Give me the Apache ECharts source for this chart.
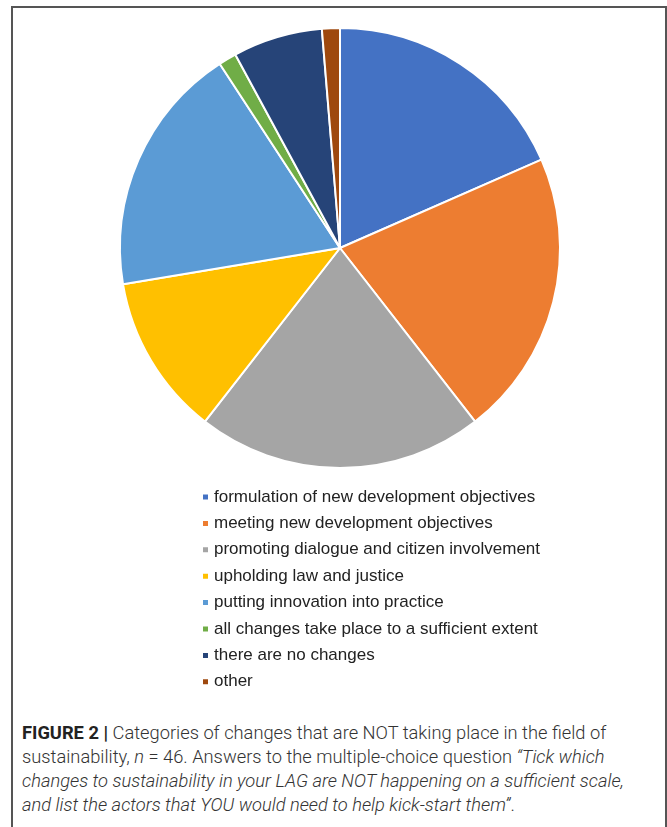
<!DOCTYPE html>
<html>
<head>
    <meta charset="UTF-8">
    <title>Figure 2</title>
    <style>
        body { margin: 0; background: #fff; }
        #frame {
            position: absolute; left: 11px; top: 6px; width: 652px; height: 840px;
            border: 2px solid #555; border-bottom: none;
        }
        #main { position: absolute; left: 0; top: 0; width: 667px; height: 710px; }
        #caption {
            position: absolute; left: 22px; top: 721px; width: 640px;
            font-family: Roboto, "Liberation Sans", sans-serif; font-weight: 300;
            font-size: 18.3px; line-height: 24px; color: #333; white-space: nowrap;
        }
        #caption b { font-weight: 700; color: #222; }
    </style>
</head>
<body>
<div id="frame"></div>
<div id="main"></div>
<div id="caption">
    <b>FIGURE 2 |</b> Categories of changes that are NOT taking place in the field of<br>
    sustainability, <i>n</i> = 46. Answers to the multiple-choice question <i>“Tick which<br>
    changes to sustainability in your LAG are NOT happening on a sufficient scale,<br>
    and list the actors that YOU would need to help kick-start them”</i>.
</div>
<script type="text/javascript" src="https://cdn.jsdelivr.net/npm/echarts@6/dist/echarts.min.js"></script>
<script type="text/javascript">
    // categories and counts
    var categories = [
        'formulation of new development objectives',
        'meeting new development objectives',
        'promoting dialogue and citizen involvement',
        'upholding law and justice',
        'putting innovation into practice',
        'all changes take place to a sufficient extent',
        'there are no changes',
        'other'
    ];
    var counts = [14, 16, 16, 9, 14, 1, 5, 1];
    var colors = ['#4472C4', '#ED7D31', '#A5A5A5', '#FFC000', '#5B9BD5', '#70AD47', '#264478', '#9E480E'];

    var myChart = echarts.init(document.getElementById('main'));
    var pieData = categories.map(function (name, i) {
        return { name: name, value: counts[i] };
    });

    var option = {
        color: colors,
        animation: false,
        legend: {
            orient: 'vertical',
            left: 196,
            top: 482,
            height: 220,
            icon: 'rect',
            itemWidth: 7,
            itemHeight: 7,
            itemGap: 6.4,
            textStyle: {
                fontFamily: '"Liberation Sans", Arial, sans-serif',
                fontSize: 17,
                color: '#222',
                lineHeight: 20
            },
            selectedMode: false,
            data: categories
        },
        series: [
            {
                type: 'pie',
                center: [340, 248],
                radius: 220,
                startAngle: 90,
                clockwise: true,
                label: { show: false },
                labelLine: { show: false },
                itemStyle: { borderColor: '#fff', borderWidth: 2 },
                emphasis: { disabled: true },
                data: pieData
            }
        ]
    };

    myChart.setOption(option);
</script>
</body>
</html>
